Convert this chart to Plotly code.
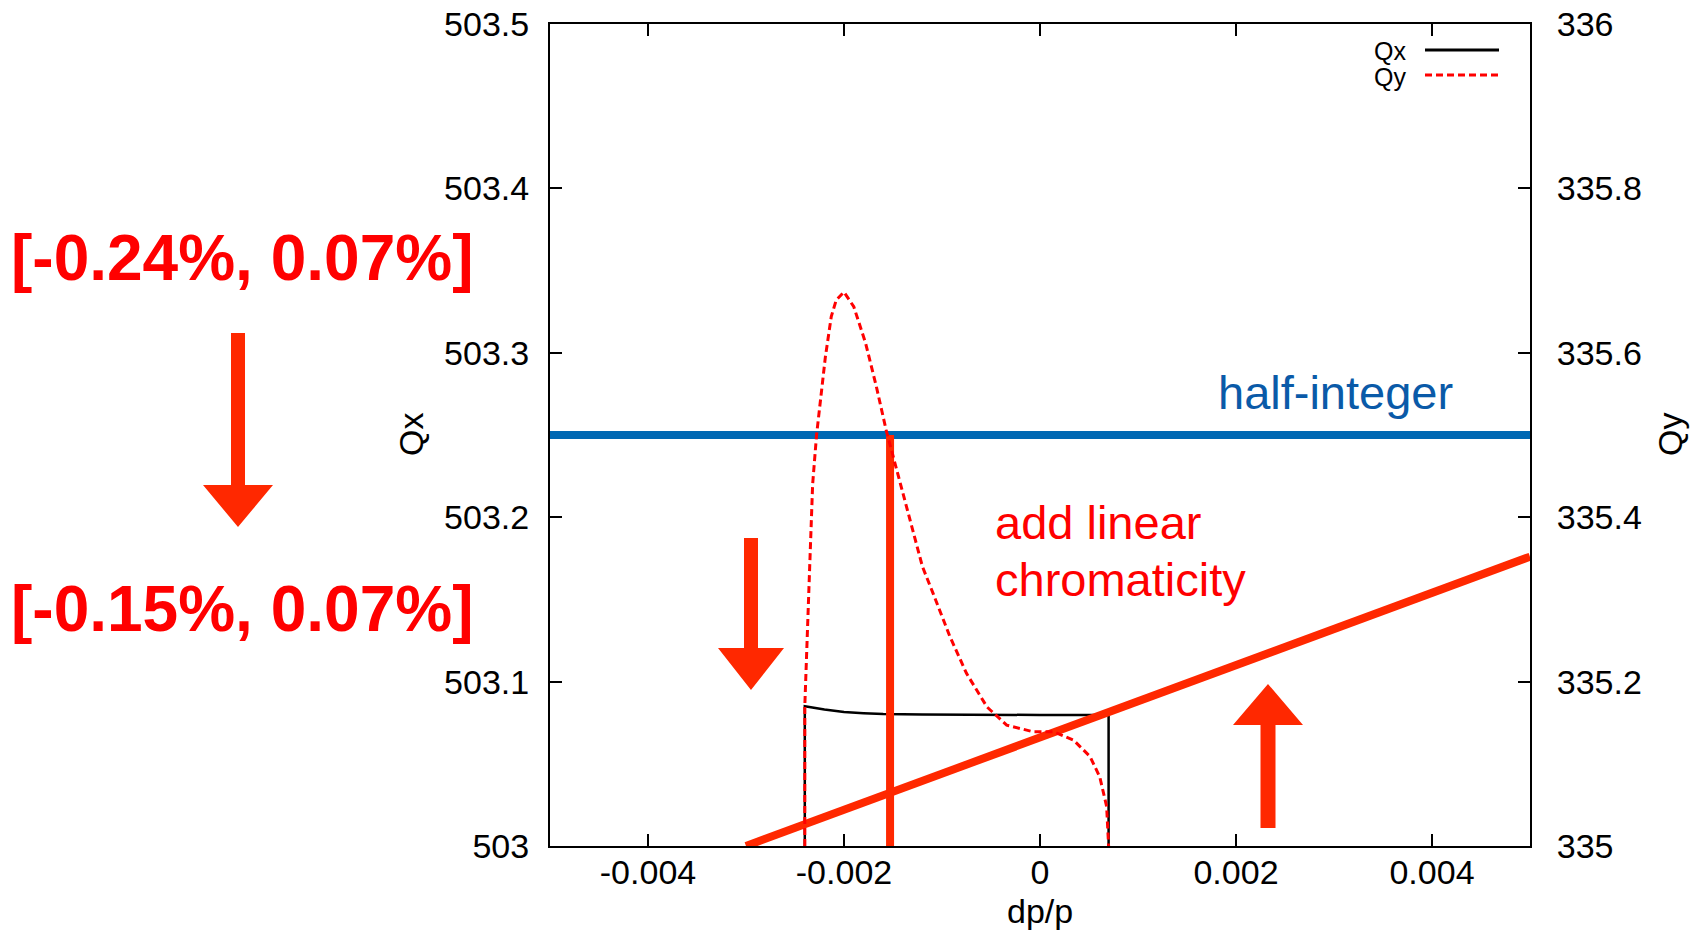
import plotly.graph_objects as go

# ---------------- data ----------------
# horizontal tune Qx (left axis) vs momentum deviation dp/p
qx_dp = [-0.0024, -0.0024, -0.0022, -0.0020, -0.0018, -0.0016, -0.0012,
         -0.0008, -0.0004, 0.0, 0.0004, 0.0007, 0.0007]
qx_val = [503.0, 503.085, 503.083, 503.0815, 503.0808, 503.0803, 503.0800,
          503.0798, 503.0797, 503.0797, 503.0797, 503.0797, 503.0]

# vertical tune Qy (right axis)
qy_dp = [-0.0024, -0.0024, -0.00235, -0.00232, -0.00228, -0.00223, -0.00219,
         -0.00213, -0.00208, -0.0020, -0.0019, -0.00178, -0.00167, -0.00157,
         -0.00147, -0.00135, -0.0012, -0.00109, -0.00092, -0.00075, -0.00054,
         -0.00034, -0.00007, 0.00014, 0.00034, 0.00051, 0.00061, 0.00068, 0.0007]
qy_val = [335.0, 335.17, 335.34, 335.44, 335.50, 335.555, 335.595,
          335.644, 335.664, 335.674, 335.656, 335.612, 335.559, 335.506,
          335.461, 335.409, 335.34, 335.307, 335.255, 335.21, 335.169,
          335.147, 335.139, 335.139, 335.129, 335.109, 335.084, 335.048, 335.0]

# annotation lines
half_integer_qx = 503.25
chrom_dp = [-0.003, 0.005]
chrom_qx = [503.0, 503.176]
cut_dp = [-0.00153, -0.00153]
cut_qx = [503.0, 503.25]

# axes
x_ticks = [-0.004, -0.002, 0.0, 0.002, 0.004]
x_ticktext = ["-0.004", "-0.002", "0", "0.002", "0.004"]
y_ticks = [503.0, 503.1, 503.2, 503.3, 503.4, 503.5]
y_ticktext = ["503", "503.1", "503.2", "503.3", "503.4", "503.5"]
y2_ticks = [335.0, 335.2, 335.4, 335.6, 335.8, 336.0]
y2_ticktext = ["335", "335.2", "335.4", "335.6", "335.8", "336"]

range_before = "[-0.24%, 0.07%]"
range_after = "[-0.15%, 0.07%]"

# ---------------- layout geometry ----------------
W, H = 1698, 930
SL, ST = 550, 24              # plot-area left / top on screen
PW, PH = 980, 822             # plot-area size
L, T = SL, ST
R = W - L - PW
B = H - T - PH
FONT = "Liberation Sans, Arial, Helvetica, sans-serif"
ORANGE = "#ff2800"
RED = "#ff0000"
BLUE = "#0068b3"


def px(X):
    return (X - SL) / PW


def py(Y):
    return (ST + PH - Y) / PH


def path(points):
    return "M " + " L ".join(f"{px(x):.5f},{py(y):.5f}" for x, y in points) + " Z"


def down_arrow(cx, top, base, tip, shaft_hw, head_hw):
    return path([(cx - shaft_hw, top), (cx + shaft_hw, top), (cx + shaft_hw, base),
                 (cx + head_hw, base), (cx, tip), (cx - head_hw, base),
                 (cx - shaft_hw, base)])


fig = go.Figure()

fig.add_trace(go.Scatter(x=qx_dp, y=qx_val, mode="lines", name="Qx",
                         line=dict(color="black", width=2.5), showlegend=False))
fig.add_trace(go.Scatter(x=qy_dp, y=qy_val, mode="lines", name="Qy", yaxis="y2",
                         line=dict(color=RED, width=3, dash="7px,4px"),
                         showlegend=False))
fig.add_trace(go.Scatter(x=[-0.005, 0.005], y=[half_integer_qx, half_integer_qx],
                         mode="lines", line=dict(color=BLUE, width=8),
                         showlegend=False, hoverinfo="skip"))
fig.add_trace(go.Scatter(x=cut_dp, y=cut_qx, mode="lines",
                         line=dict(color=ORANGE, width=8),
                         showlegend=False, hoverinfo="skip"))
fig.add_trace(go.Scatter(x=chrom_dp, y=chrom_qx, mode="lines",
                         line=dict(color=ORANGE, width=8),
                         showlegend=False, hoverinfo="skip"))

shapes = []
# big arrows
shapes.append(dict(type="path", xref="paper", yref="paper",
                   path=down_arrow(238, 333, 485, 527, 7, 35),
                   fillcolor=ORANGE, line=dict(width=0)))
shapes.append(dict(type="path", xref="paper", yref="paper",
                   path=down_arrow(751, 538, 648, 690, 7, 33),
                   fillcolor=ORANGE, line=dict(width=0)))
shapes.append(dict(type="path", xref="paper", yref="paper",
                   path=down_arrow(1268, 828, 725, 684, 7.5, 35),
                   fillcolor=ORANGE, line=dict(width=0)))
# legend samples
shapes.append(dict(type="line", xref="paper", yref="paper",
                   x0=px(1425), x1=px(1499), y0=py(50), y1=py(50),
                   line=dict(color="black", width=3)))
shapes.append(dict(type="line", xref="paper", yref="paper",
                   x0=px(1425), x1=px(1499), y0=py(75), y1=py(75),
                   line=dict(color=RED, width=3, dash="7px,4px")))

annotations = []


def txt(text, X, Y, size, color, xanchor="center", bold=False, angle=0):
    annotations.append(dict(
        text=f"<b>{text}</b>" if bold else text,
        x=px(X), y=py(Y), xref="paper", yref="paper",
        xanchor=xanchor, yanchor="middle", showarrow=False, textangle=angle,
        font=dict(family=FONT, size=size, color=color)))


txt(range_before, 242, 258, 64, RED, bold=True)
txt(range_after, 242, 609, 64, RED, bold=True)
txt("half-integer", 1216, 393, 47, "#0a5aa8", xanchor="left")
txt("add linear", 993, 522, 47, RED, xanchor="left")
txt("chromaticity", 993, 579, 47, RED, xanchor="left")
txt("Qx", 1408, 51, 25, "black", xanchor="right")
txt("Qy", 1408, 77, 25, "black", xanchor="right")
txt("Qx", 411, 435, 34, "black", angle=-90)
txt("Qy", 1670, 435, 34, "black", angle=-90)
txt("dp/p", 1040, 911, 34, "black")

axis_common = dict(showgrid=False, zeroline=False, showline=True, linecolor="black",
                   linewidth=2, ticks="inside", ticklen=12, tickwidth=1.5,
                   automargin=False, ticklabeloverflow="allow",
                   tickcolor="black", tickfont=dict(family=FONT, size=34, color="black"))

fig.update_layout(
    template="none",
    width=W, height=H,
    margin=dict(l=L, r=R, t=T, b=B, pad=0, autoexpand=False),
    paper_bgcolor="white", plot_bgcolor="white",
    showlegend=False,
    font=dict(family=FONT, color="black"),
    xaxis=dict(range=[-0.005, 0.005], tickvals=x_ticks, ticktext=x_ticktext,
               mirror="ticks", ticklabelstandoff=-5, **axis_common),
    yaxis=dict(range=[503.0, 503.5], tickvals=y_ticks, ticktext=y_ticktext,
               mirror=False, ticklabelstandoff=12, **axis_common),
    yaxis2=dict(range=[335.0, 336.0], tickvals=y2_ticks, ticktext=y2_ticktext,
                overlaying="y", side="right", ticklabelstandoff=18, **axis_common),
    shapes=shapes,
    annotations=annotations,
)

fig.write_html("out.html",
               config={"displayModeBar": False},
               post_script="document.body.style.margin='0';"
                           "document.body.style.overflow='hidden';")
